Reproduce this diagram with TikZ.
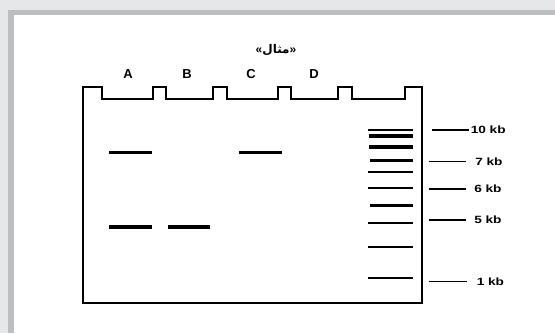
\documentclass[tikz,border=0pt]{standalone}
\usepackage{fontspec}
\setmainfont{Liberation Sans}
\newfontfamily\arabicfont[Script=Arabic]{DejaVu Sans}
\TeXXeTstate=1
\definecolor{outerbg}{HTML}{E6E7E8}
\definecolor{framegray}{HTML}{BCBEC0}
\begin{document}
\begin{tikzpicture}[x=1pt,y=-1pt,
  gel/.style={line width=1.5pt,line join=miter},
  bandthick/.style={line width=3.6pt},
  bandthin/.style={line width=2pt},
  markline/.style={line width=1.6pt},
  lanelabel/.style={font=\bfseries\fontsize{13}{13}\selectfont,inner sep=0pt},
  kblabel/.style={font=\bfseries\fontsize{10.5}{10.5}\selectfont,inner sep=0pt,anchor=west,xscale=1.3}]
\useasboundingbox (0,0) rectangle (555,333);
\fill[outerbg] (0,0) rectangle (555,333);
\fill[framegray] (8,10) rectangle (555,333);
\fill[white] (14,15) rectangle (555,333);
% title
\node[font=\bfseries\fontsize{12}{12}\selectfont,inner sep=0pt] (title) at (276,50) {«{\arabicfont\beginR مثال\endR}»};
% lane labels
\node[lanelabel] (labA) at (128,74) {A};
\node[lanelabel] (labB) at (187,74) {B};
\node[lanelabel] (labC) at (251,74) {C};
\node[lanelabel] (labD) at (314,74) {D};
% gel outline
\draw[gel] (83,303) -- (83,87) -- (102,87) -- (102,99) -- (153,99) -- (153,87) -- (166,87) -- (166,99) -- (213,99) -- (213,87) -- (227,87) -- (227,99) -- (278,99) -- (278,87) -- (291,87) -- (291,99) -- (338,99) -- (338,87) -- (352,87) -- (352,99) -- (405,99) -- (405,87) -- (422,87) -- (422,303) -- cycle;
% sample bands
\draw[bandthick] (109,152.3) -- (151.7,152.3);
\draw[bandthick] (109,226.7) -- (151.7,226.7);
\draw[bandthick] (168,226.7) -- (210,226.7);
\draw[bandthick] (239.3,152.3) -- (282,152.3);
% ladder
\foreach \y in {130,172.3,188.3,222.5,246.7,278.2}
  \draw[bandthin] (367.5,\y) -- (412.5,\y);
\draw[bandthick] (369,136) -- (412.5,136);
\draw[bandthick] (369,147.2) -- (412.5,147.2);
\draw[bandthick] (370,160.5) -- (412.5,160.5);
\draw[bandthick] (370,205.5) -- (412.5,205.5);
% size markers
\node[kblabel] (k10) at (470.5,130) {10 kb};
\node[kblabel] (k7) at (475,161.5) {7 kb};
\node[kblabel] (k6) at (474,189) {6 kb};
\node[kblabel] (k5) at (474,220) {5 kb};
\node[kblabel] (k1) at (476.5,281.5) {1 kb};
\coordinate (m10) at (431.5,130);
\coordinate (m7) at (428.5,161.5);
\coordinate (m6) at (428.5,189);
\coordinate (m5) at (428.5,220);
\coordinate (m1) at (428.5,281.5);
\draw[markline] (m10) -- ([xshift=-2pt]k10.west);
\draw[markline] (m7) -- ([xshift=-9pt]k7.west);
\draw[markline] (m6) -- ([xshift=-8pt]k6.west);
\draw[markline] (m5) -- ([xshift=-8pt]k5.west);
\draw[markline] (m1) -- ([xshift=-10pt]k1.west);
\end{tikzpicture}
\end{document}
